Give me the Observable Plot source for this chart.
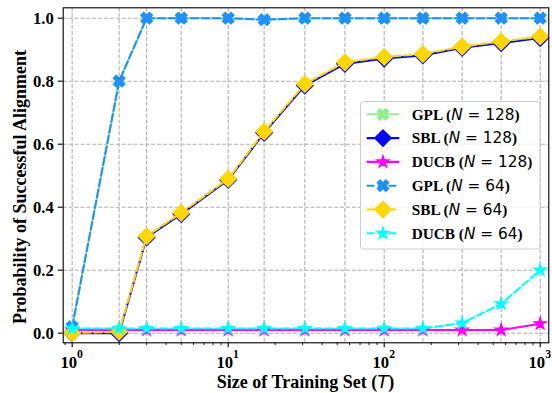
<!DOCTYPE html>
<html><head><meta charset="utf-8">
<script src="https://cdn.jsdelivr.net/npm/d3@7"></script>
<script src="https://cdn.jsdelivr.net/npm/@observablehq/plot@0.6"></script>
<style>body{margin:0;background:#fff}</style>
</head><body><div id="chart"></div>
<script>
// ---- data ----
const T = [1, 2, 3, 5, 10, 17, 31, 56, 100, 177, 316, 562, 1000];
const gpl128  = [0.02, 0.80, 1.00, 1.00, 1.00, 0.995, 1.00, 1.00, 1.00, 1.00, 1.00, 1.00, 1.00];
const sbl128  = [0.00, 0.00, 0.304, 0.378, 0.487, 0.636, 0.786, 0.855, 0.872, 0.882, 0.906, 0.921, 0.937];
const ducb128 = [0.01, 0.01, 0.01, 0.01, 0.01, 0.01, 0.01, 0.01, 0.01, 0.01, 0.01, 0.01, 0.03];
const gpl64   = [0.02, 0.80, 1.00, 1.00, 1.00, 0.995, 1.00, 1.00, 1.00, 1.00, 1.00, 1.00, 1.00];
const sbl64   = [0.00, 0.005, 0.308, 0.382, 0.490, 0.640, 0.791, 0.860, 0.877, 0.886, 0.910, 0.926, 0.942];
const ducb64  = [0.015, 0.015, 0.015, 0.015, 0.015, 0.015, 0.015, 0.015, 0.015, 0.015, 0.032, 0.093, 0.20];
const seriesValues = [gpl128, sbl128, ducb128, gpl64, sbl64, ducb64];
const seriesNames = ["GPL", "SBL", "DUCB", "GPL", "SBL", "DUCB"];
const seriesN = [128, 128, 128, 64, 64, 64];
const seriesColors = ["#90ee90", "#0000ff", "#ff00ff", "#1e90ff", "#ffd700", "#00ffff"];
const seriesDashed = [false, false, false, true, true, true];
const seriesMarker = ["X", "D", "*", "X", "D", "*"];
const yTicks = [0, 0.2, 0.4, 0.6, 0.8, 1.0];
const xMajor = [1, 10, 100, 1000];
const xMajorExp = ["0", "1", "2", "3"];
const xMinor = [0.9, 2, 3, 4, 5, 6, 7, 8, 9, 20, 30, 40, 50, 60, 70, 80, 90, 200, 300, 400, 500, 600, 700, 800, 900];
const xLabel = ["Size of Training Set (", "T", ")"];
const yLabel = "Probability of Successful Alignment";

// ---- custom marker symbols (matplotlib-like) ----
const symX = {draw(ctx, size) {
  const r = Math.sqrt(size / Math.PI), a = r / 3, L = r, s = Math.SQRT1_2;
  const p = [[L,-a],[L,a],[a,a],[a,L],[-a,L],[-a,a],[-L,a],[-L,-a],[-a,-a],[-a,-L],[a,-L],[a,-a]];
  p.forEach(([x, y], i) => { const X = (x - y) * s, Y = (x + y) * s; i ? ctx.lineTo(X, Y) : ctx.moveTo(X, Y); });
  ctx.closePath();
}};
const symD = {draw(ctx, size) {
  const d = Math.sqrt(size / Math.PI) * Math.SQRT2 * 0.97;
  ctx.moveTo(0, -d); ctx.lineTo(d, 0); ctx.lineTo(0, d); ctx.lineTo(-d, 0); ctx.closePath();
}};
const symStar = {draw(ctx, size) {
  const R = Math.sqrt(size / Math.PI) * 1.05, r = R * 0.381966;
  for (let i = 0; i < 10; i++) {
    const ang = -Math.PI / 2 + i * Math.PI / 5, rr = i % 2 ? r : R;
    const x = rr * Math.cos(ang), y = rr * Math.sin(ang);
    i ? ctx.lineTo(x, y) : ctx.moveTo(x, y);
  }
  ctx.closePath();
}};
const symbols = {"X": symX, "D": symD, "*": symStar};

const serif = "'Liberation Serif', 'Times New Roman', Times, serif";
const sans = "'DejaVu Sans', sans-serif";

const marks = [
  Plot.ruleY(yTicks, {stroke: "#b0b0b0", strokeWidth: 1.1, strokeDasharray: "4.1,1.8"}),
  Plot.ruleX(T, {stroke: "#b0b0b0", strokeWidth: 1.1, strokeDasharray: "4.1,1.8"})
];
seriesValues.forEach((vals, k) => {
  const rows = T.map((t, i) => ({T: t, v: vals[i]}));
  marks.push(Plot.line(rows, {x: "T", y: "v", stroke: seriesColors[k], strokeWidth: 2.08,
    strokeDasharray: seriesDashed[k] ? "7.7,3.3" : null}));
  marks.push(Plot.dot(rows, {x: "T", y: "v", r: 6, symbol: symbols[seriesMarker[k]],
    fill: seriesColors[k], stroke: seriesColors[k], strokeWidth: 1.3}));
});
marks.push(
  Plot.axisY({ticks: yTicks, tickFormat: d3.format(".1f"), tickSize: 4.86, tickPadding: 4.5,
    fontSize: 16.7, fontWeight: "bold", fontFamily: serif, label: null, strokeWidth: 1.1}),
  Plot.axisX({ticks: xMajor, tickSize: 4.86, tickFormat: () => "", label: null, strokeWidth: 1.1}),
  Plot.axisX({ticks: xMinor, tickSize: 2.78, tickFormat: () => "", label: null, strokeWidth: 0.9}),
  Plot.frame({stroke: "black", strokeWidth: 1.1})
);

const plot = Plot.plot({
  width: 552, height: 393,
  marginLeft: 62.7, marginRight: 3.7, marginTop: 7.3, marginBottom: 50.7,
  x: {type: "log", domain: [0.876, 1135]},
  y: {domain: [-0.0305, 1.033]},
  style: {background: "white", color: "black"},
  marks
});
document.getElementById("chart").appendChild(plot);

// ---- text decorations: x tick labels with superscripts, axis labels, legend ----
const svg = d3.select(plot);
const xs = plot.scale("x");
xMajor.forEach((t, i) => {
  const txt = svg.append("text").attr("x", xs.apply(t)).attr("y", 367.5)
    .attr("text-anchor", "middle").attr("font-family", serif).attr("font-weight", "bold")
    .attr("font-size", 16.7).attr("fill", "black");
  txt.append("tspan").text("10");
  txt.append("tspan").attr("dy", -9.5).attr("font-size", 11.7).text(xMajorExp[i]);
});
const xl = svg.append("text").attr("x", (62.7 + 548.3) / 2).attr("y", 387.5)
  .attr("text-anchor", "middle").attr("font-size", 18).attr("fill", "black");
xl.append("tspan").attr("font-family", serif).attr("font-weight", "bold").text(xLabel[0]);
xl.append("tspan").attr("font-family", sans).attr("font-style", "italic").text(xLabel[1]);
xl.append("tspan").attr("font-family", serif).attr("font-weight", "bold").text(xLabel[2]);

svg.append("text").attr("transform", "translate(25.5,187) rotate(-90)")
  .attr("text-anchor", "middle").attr("font-family", serif).attr("font-weight", "bold")
  .attr("font-size", 18).attr("fill", "black").text(yLabel);

const lg = svg.append("g").attr("text-anchor", "start");
lg.append("rect").attr("x", 360.5).attr("y", 101.5).attr("width", 179.5).attr("height", 147.5)
  .attr("rx", 3).attr("fill", "white").attr("fill-opacity", 0.8).attr("stroke", "#cccccc").attr("stroke-width", 1);
seriesNames.forEach((name, k) => {
  const cy = 114.3 + k * 23.8;
  lg.append("line").attr("x1", 366.7).attr("x2", 399.3).attr("y1", cy).attr("y2", cy)
    .attr("stroke", seriesColors[k]).attr("stroke-width", 2.08)
    .attr("stroke-dasharray", seriesDashed[k] ? "7.7,3.3" : null);
  const p = d3.path();
  symbols[seriesMarker[k]].draw(p, 36 * Math.PI);
  lg.append("path").attr("transform", `translate(383,${cy})`).attr("d", p.toString())
    .attr("fill", seriesColors[k]).attr("stroke", seriesColors[k]).attr("stroke-width", 1.3);
  const t = lg.append("text").attr("x", 411.7).attr("y", cy + 5.2).attr("text-anchor", "start")
    .attr("font-size", 15.3).attr("fill", "black");
  t.append("tspan").attr("font-family", serif).attr("font-weight", "bold").text(name + " (");
  t.append("tspan").attr("font-family", sans).attr("font-style", "italic").text("N");
  t.append("tspan").attr("font-family", sans).text(" = " + seriesN[k]);
  t.append("tspan").attr("font-family", serif).attr("font-weight", "bold").text(")");
});
</script>
</body></html>
